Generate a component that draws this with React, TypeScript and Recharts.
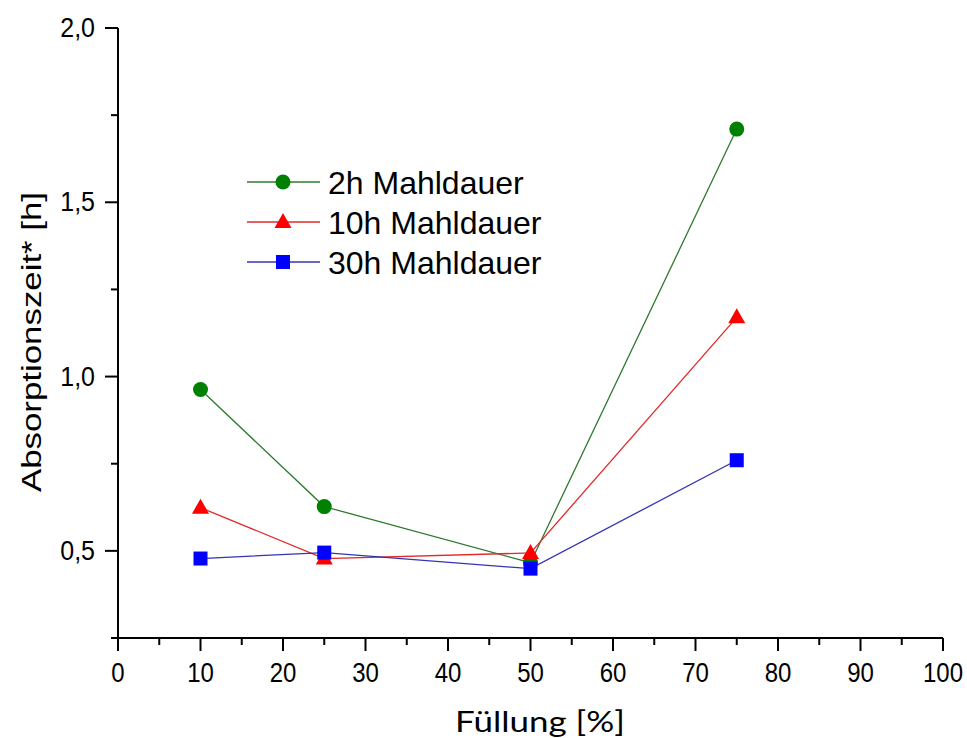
import React from 'react';
import { LineChart, Line, XAxis, YAxis, Legend } from 'recharts';

const fillLevels = [10, 25, 50, 75];
const series2h = [0.963, 0.627, 0.466, 1.71];
const series10h = [0.624, 0.478, 0.494, 1.17];
const series30h = [0.478, 0.495, 0.449, 0.76];
const seriesKeys = ['s2', 's10', 's30'];
const seriesNames = ['2h Mahldauer', '10h Mahldauer', '30h Mahldauer'];
const xTicks = [0, 5, 10, 15, 20, 25, 30, 35, 40, 45, 50, 55, 60, 65, 70, 75, 80, 85, 90, 95, 100];
const xMajorTicks = [0, 10, 20, 30, 40, 50, 60, 70, 80, 90, 100];
const yTicks = [0.25, 0.5, 0.75, 1.0, 1.25, 1.5, 1.75, 2.0];
const yMajorTicks = [0.5, 1.0, 1.5, 2.0];
const xTitle = 'Füllung  [%]';
const yTitle = 'Absorptionszeit* [h]';

const data = fillLevels.map((f, i) => ({
  fill: f,
  s2: series2h[i],
  s10: series10h[i],
  s30: series30h[i],
}));

const FONT = '"Liberation Sans", Arial, sans-serif';

const COLORS: Record<string, { line: string; marker: string }> = {
  s2: { line: '#2f7a2f', marker: '#008000' },
  s10: { line: '#e02a2a', marker: '#ff0000' },
  s30: { line: '#3434b4', marker: '#0000ff' },
};

const Marker = ({ kind, cx, cy }: { kind: string; cx: number; cy: number }) => {
  if (kind === 's2') return <circle cx={cx} cy={cy} r={7.5} fill={COLORS.s2.marker} />;
  if (kind === 's10')
    return (
      <polygon
        points={`${cx},${cy - 9} ${cx + 8.5},${cy + 6} ${cx - 8.5},${cy + 6}`}
        fill={COLORS.s10.marker}
      />
    );
  return <rect x={cx - 7} y={cy - 7} width={14} height={14} fill={COLORS.s30.marker} />;
};

const makeDot = (kind: string) => (props: any) => {
  const { cx, cy, index } = props;
  if (cx == null || cy == null) return <g key={`${kind}-${index}`} />;
  return (
    <g key={`${kind}-${index}`}>
      <Marker kind={kind} cx={cx} cy={cy} />
    </g>
  );
};

const XTick = (props: any) => {
  const { x, y, payload } = props;
  const v = payload.value;
  const major = xMajorTicks.includes(v);
  return (
    <g>
      <line x1={x} x2={x} y1={y} y2={y + (major ? 13 : 7)} stroke="#000" strokeWidth={2} />
      {major && (
        <text
          x={x}
          y={y + 44}
          textAnchor="middle"
          fontSize={24}
          fill="#000"
          fontFamily={FONT}
          transform={`translate(0 ${(y + 44) * -0.17}) scale(1 1.17)`}
        >
          {v}
        </text>
      )}
    </g>
  );
};

const YTick = (props: any) => {
  const { x, y, payload } = props;
  const v = payload.value;
  const major = yMajorTicks.some((m) => Math.abs(m - v) < 1e-6);
  const by = y + 9;
  return (
    <g>
      <line x1={x} x2={x - (major ? 13 : 7)} y1={y} y2={y} stroke="#000" strokeWidth={2} />
      {major && (
        <text
          x={x - 23}
          y={by}
          textAnchor="end"
          fontSize={25}
          fill="#000"
          fontFamily={FONT}
          transform={`translate(0 ${by * -0.1}) scale(1 1.1)`}
        >
          {v.toFixed(1).replace('.', ',')}
        </text>
      )}
    </g>
  );
};

const renderLegend = () => {
  return (
    <svg width={340} height={130}>
      {seriesKeys.map((key, i) => {
        const cy = 22 + i * 40;
        const c = COLORS[key];
        return (
          <g key={key}>
            <line x1={7} x2={80} y1={cy} y2={cy} stroke={c.line} strokeWidth={1.3} />
            <Marker kind={key} cx={43} cy={cy} />
            <text x={88} y={cy} dy="0.36em" fontSize={32} fill="#000" fontFamily={FONT}>
              {seriesNames[i]}
            </text>
          </g>
        );
      })}
    </svg>
  );
};

export default function App() {
  return (
    <div style={{ position: 'absolute', left: 0, top: 0, background: '#fff' }}>
      <LineChart
        width={967}
        height={738}
        data={data}
        margin={{ top: 28, right: 24, left: 0, bottom: 0 }}
      >
        <XAxis
          dataKey="fill"
          type="number"
          domain={[0, 100]}
          ticks={xTicks}
          interval={0}
          tickSize={0}
          tickMargin={0}
          tickLine={false}
          height={100}
          axisLine={{ stroke: '#000', strokeWidth: 2 }}
          tick={<XTick />}
          label={() => (
            <text
              x={540}
              y={732}
              textAnchor="middle"
              fontSize={28}
              fill="#000"
              fontFamily="Lato, 'Open Sans', sans-serif"
              textLength={170}
              lengthAdjust="spacingAndGlyphs"
            >
              {xTitle}
            </text>
          )}
        />
        <YAxis
          type="number"
          domain={[0.25, 2.0]}
          ticks={yTicks}
          interval={0}
          tickSize={0}
          tickMargin={0}
          tickLine={false}
          width={118}
          allowDataOverflow
          axisLine={{ stroke: '#000', strokeWidth: 2 }}
          tick={<YTick />}
          label={() => (
            <text
              x={31}
              y={342}
              transform="rotate(-90 31 342)"
              textAnchor="middle"
              dy="0.36em"
              fontSize={27}
              fill="#000"
              fontFamily={FONT}
              textLength={300}
              lengthAdjust="spacingAndGlyphs"
            >
              {yTitle}
            </text>
          )}
        />
        <Legend
          layout="vertical"
          align="center"
          verticalAlign="middle"
          content={renderLegend}
          wrapperStyle={{ position: 'absolute', left: 240, top: 160, width: 340, height: 130 }}
        />
        <Line
          dataKey="s2"
          name={seriesNames[0]}
          stroke={COLORS.s2.line}
          strokeWidth={1.3}
          dot={makeDot('s2')}
          activeDot={false}
          isAnimationActive={false}
        />
        <Line
          dataKey="s10"
          name={seriesNames[1]}
          stroke={COLORS.s10.line}
          strokeWidth={1.3}
          dot={makeDot('s10')}
          activeDot={false}
          isAnimationActive={false}
        />
        <Line
          dataKey="s30"
          name={seriesNames[2]}
          stroke={COLORS.s30.line}
          strokeWidth={1.3}
          dot={makeDot('s30')}
          activeDot={false}
          isAnimationActive={false}
        />
      </LineChart>
    </div>
  );
}
